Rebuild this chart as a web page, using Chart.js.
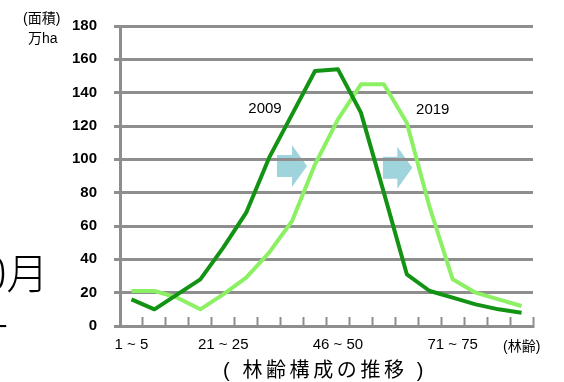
<!DOCTYPE html>
<html lang="ja">
<head>
<meta charset="utf-8">
<title>林齢構成の推移</title>
<script src="https://cdn.jsdelivr.net/npm/chart.js@4.4.1/dist/chart.umd.min.js"></script>
<style>
  html, body { margin: 0; padding: 0; background: #fff; }
  #wrap { position: relative; width: 564px; height: 382px; overflow: hidden;
          font-family: "Liberation Sans", "Noto Sans CJK JP", sans-serif; }
  #wrap canvas { position: absolute; left: 0; top: 0; }
  .note { position: absolute; white-space: nowrap; color: #000; line-height: 1; }
</style>
</head>
<body>
<div id="wrap">
  <canvas id="forestChart" width="564" height="382"></canvas>
  <div class="note" style="left:23px; top:11px; font-size:14px;">(面積)</div>
  <div class="note" style="left:28px; top:31px; font-size:14px;">万ha</div>
  <div class="note" style="left:503px; top:339px; font-size:14px;">(林齢)</div>
  <div class="note" style="left:223px; top:360px; font-size:20px; letter-spacing:3.6px;">( 林齢構成の推移 )</div>
  <div class="note" style="left:-16px; top:250px; font-size:42px; font-family:'Noto Sans CJK JP', sans-serif; font-weight:300;">0月</div>
  <div class="note" style="left:-6px; top:299px; font-size:42px; font-family:'Noto Sans CJK JP', sans-serif; font-weight:300;">-</div>
</div>
<script>
// 林齢（5年ごとの齢級）
const ageClasses = ['1～5', '6～10', '11～15', '16～20', '21～25', '26～30', '31～35', '36～40', '41～45',
                    '46～50', '51～55', '56～60', '61～65', '66～70', '71～75', '76～80', '81～85', '86～90'];
// 軸に表示する齢級ラベル
const ageTickText = ['1 ~ 5', '', '', '', '21 ~ 25', '', '', '', '', '46 ~ 50', '', '', '', '', '71 ~ 75', '', '', ''];

// 面積（万ha）
const area2009 = [16, 10, 19, 28, 47, 68, 101, 127, 153, 154, 128, 80, 31, 21, 17, 13, 10, 8];
const area2019 = [21, 21, 17, 10, 19, 29, 44, 63, 97, 124, 145, 145, 122, 71, 28, 20, 16, 12];

const yMin = 0;
const yMax = 180;
const yStep = 20;

const gridGray = '#8e8e8e';

// 10年で右へずれることを示す矢印と年のラベル
const shiftMarks = {
  id: 'shiftMarks',
  beforeDraw(chart) {
    const { ctx, scales: { x, y } } = chart;
    const arrows = [{ from: 6.34, to: 7.65, at: 96 }, { from: 10.96, to: 12.24, at: 95 }];
    ctx.save();
    ctx.fillStyle = '#a0d4dc';
    arrows.forEach(a => {
      const x0 = x.getPixelForValue(a.from);
      const x1 = x.getPixelForValue(a.to);
      const yc = y.getPixelForValue(a.at);
      const hx = x1 - 15;
      ctx.beginPath();
      ctx.moveTo(x0, yc - 11);
      ctx.lineTo(hx, yc - 11);
      ctx.lineTo(hx, yc - 21);
      ctx.lineTo(x1, yc);
      ctx.lineTo(hx, yc + 21);
      ctx.lineTo(hx, yc + 11);
      ctx.lineTo(x0, yc + 11);
      ctx.closePath();
      ctx.fill();
    });
    ctx.restore();
  },
  afterDatasetsDraw(chart) {
    const { ctx, scales: { x, y } } = chart;
    const spots = [{ at: 5.82, value: 130.5 }, { at: 13.13, value: 129.4 }];
    ctx.save();
    ctx.fillStyle = '#000';
    ctx.font = '15px "Liberation Sans", sans-serif';
    ctx.textAlign = 'center';
    ctx.textBaseline = 'middle';
    chart.data.datasets.forEach((ds, i) => {
      ctx.fillText(ds.label, x.getPixelForValue(spots[i].at), y.getPixelForValue(spots[i].value));
    });
    ctx.restore();
  }
};

new Chart(document.getElementById('forestChart'), {
  type: 'line',
  data: {
    labels: ageClasses,
    datasets: [{
      label: '2009',
      data: area2009,
      borderColor: '#139313',
      borderWidth: 4,
      pointRadius: 0,
      tension: 0,
      borderJoinStyle: 'round'
    }, {
      label: '2019',
      data: area2019,
      borderColor: '#8cf064',
      borderWidth: 4,
      pointRadius: 0,
      tension: 0,
      borderJoinStyle: 'round'
    }]
  },
  options: {
    responsive: false,
    animation: false,
    devicePixelRatio: 1,
    layout: { padding: { top: 22, right: 31, left: 0, bottom: 0 } },
    plugins: {
      legend: { display: false },
      tooltip: { enabled: false }
    },
    scales: {
      x: {
        offset: true,
        afterFit: s => { s.height = 56; },
        grid: {
          offset: true,
          drawOnChartArea: false,
          drawTicks: true,
          tickLength: -9,
          tickColor: gridGray,
          tickWidth: 2
        },
        border: { display: true, color: gridGray, width: 3 },
        ticks: {
          autoSkip: false,
          maxRotation: 0,
          padding: 19,
          color: '#000',
          font: { family: '"Liberation Sans", sans-serif', size: 15 },
          callback: (v, i) => ageTickText[i]
        }
      },
      y: {
        min: yMin,
        max: yMax,
        afterFit: s => { s.width = 120; },
        grid: {
          color: gridGray,
          lineWidth: 3,
          drawTicks: true,
          tickLength: 6
        },
        border: { display: true, color: gridGray, width: 3 },
        ticks: {
          stepSize: yStep,
          padding: 17,
          color: '#000',
          font: { family: '"Liberation Sans", sans-serif', size: 15, weight: 'bold' }
        }
      }
    }
  },
  plugins: [shiftMarks]
});
</script>
</body>
</html>
